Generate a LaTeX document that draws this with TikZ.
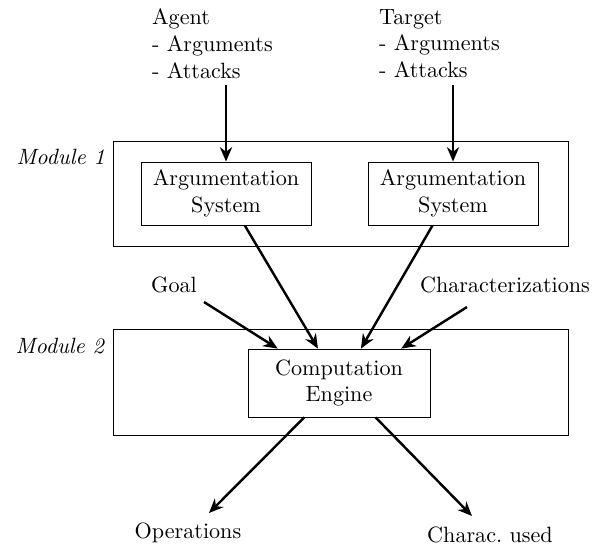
\documentclass[tikz,border=0pt]{standalone}
\usetikzlibrary{arrows.meta,calc}
\begin{document}
\begin{tikzpicture}[x=0.452pt,y=0.452pt,yscale=-1,xscale=1,
  blk/.style={draw, align=center, inner sep=0pt},
  txt/.style={inner sep=0.75pt},
  arr/.style={-{Stealth[length=6.5pt,width=5.5pt]}, line width=1.1pt}]
\path[use as bounding box] (0,0) rectangle (592,544);

%Module boxes
\node [blk, minimum width=205.7pt, minimum height=47.5pt] (mod1) at (340.5,193.5) {};
\node [blk, minimum width=205.7pt, minimum height=47.9pt] (mod2) at (340.5,382) {};
\node [txt, anchor=east] (lab1) at (107,157) {\textit{Module 1}};
\node [txt, anchor=east] (lab2) at (107,346) {\textit{Module 2}};

%Inner boxes
\node [blk, minimum width=76.8pt, minimum height=28.5pt] (as1) at (226,193.5) {Argumentation\\System};
\node [blk, minimum width=76.8pt, minimum height=28.5pt] (as2) at (453,193.5) {Argumentation\\System};
\node [blk, minimum width=82.3pt, minimum height=30.7pt] (comp) at (339,383) {Computation\\Engine};

%Text Nodes
\node [txt, anchor=north west, align=left] (agent) at (150,7) {Agent\\- Arguments\\- Attacks};
\node [txt, anchor=north west, align=left] (target) at (377,7) {Target\\- Arguments\\- Attacks};
\node [txt] (goal) at (174,285) {Goal};
\node [txt] (charac) at (505,285) {Characterizations};
\node [txt] (ops) at (188,533) {Operations};
\node [txt] (used) at (490,535) {Charac.\ used};

%Free ends
\coordinate (agentout) at (226,85);
\coordinate (targetout) at (453,85);
\coordinate (goalout) at (204,302);
\coordinate (characout) at (467,307);
\coordinate (opsin) at (209,513);
\coordinate (usedin) at (472,516);

%Arrows
\draw [arr] (agentout) -- (as1.north);
\draw [arr] (targetout) -- (as2.north);
\draw [arr] ($(as1.south west)!.61!(as1.south east)$) -- ($(comp.north west)!.385!(comp.north east)$);
\draw [arr] ($(as2.south west)!.38!(as2.south east)$) -- ($(comp.north west)!.62!(comp.north east)$);
\draw [arr] (goalout) -- ($(comp.north west)!.165!(comp.north east)$);
\draw [arr] (characout) -- ($(comp.north west)!.84!(comp.north east)$);
\draw [arr] ($(comp.south west)!.31!(comp.south east)$) -- (opsin);
\draw [arr] ($(comp.south west)!.70!(comp.south east)$) -- (usedin);

\end{tikzpicture}
\end{document}
